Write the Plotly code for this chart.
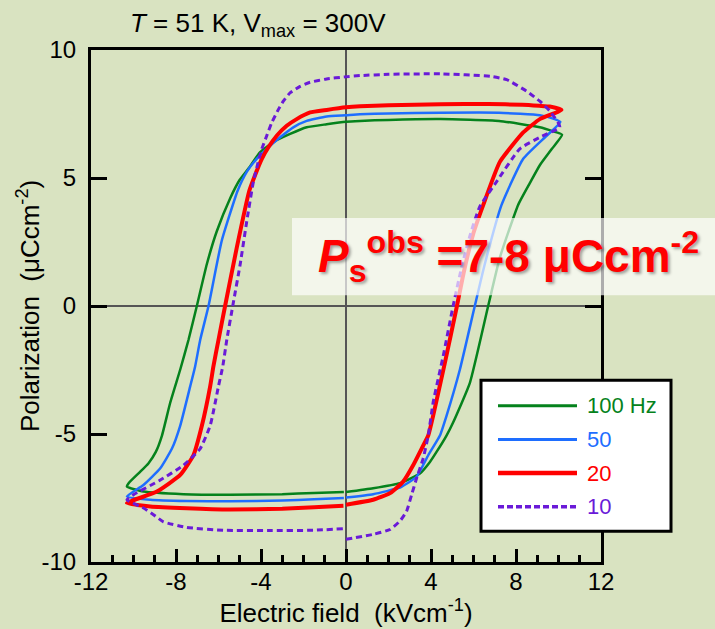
import plotly.graph_objects as go

# ---------------- data ----------------
E_100 = [0, 1.28, 2.54, 3.48, 3.95, 4.26, 4.73, 5.04, 5.83, 6.69, 7.24, 8.1, 8.65, 9.12, 9.7, 10.17,
         9.75, 9.12, 7.2, 4.45, 2.0, 0.66, 0, -0.91, -1.85, -2.63, -3.42, -4.04, -4.59, -5.0,
         -5.45, -6.08, -6.55, -7.02, -7.41, -7.8, -8.27, -8.66, -8.95, -9.3, -9.68, -10.23, -10.31,
         -9.53, -7.65, -5.45, -3.0, -1.5, -0.1]
P_100 = [-7.27, -7.12, -6.92, -6.54, -6.09, -5.7, -5.06, -4.55, -3.0, 0, 1.89, 3.95, 4.8, 5.5, 6.15, 6.69,
         6.82, 6.98, 7.23, 7.3, 7.27, 7.23, 7.2, 7.1, 6.98, 6.72, 6.4, 6.01, 5.37, 4.93,
         4.21, 2.92, 1.63, 0, -1.32, -2.48, -3.77, -5.06, -5.7, -6.15, -6.47, -6.92, -7.05,
         -7.25, -7.35, -7.37, -7.35, -7.3, -7.27]

E_50 = [0, 1.28, 2.54, 3.32, 3.87, 4.42, 4.73, 5.36, 6.06, 6.53, 7.32, 8.34, 9.44, 10.09,
        9.75, 9.12, 7.2, 4.45, 2.0, 0.66, 0, -0.91, -1.85, -2.48, -3.1, -3.73, -4.2, -4.67,
        -5.1, -5.85, -6.47, -6.86, -7.1, -7.33, -7.8, -8.19, -8.74, -9.53, -10.31,
        -9.21, -7.5, -5.45, -3.0, -1.5, -0.1]
P_50 = [-7.48, -7.35, -7.09, -6.67, -5.83, -5.06, -4.29, -2.48, 0, 1.63, 3.95, 5.75, 6.65, 7.19,
        7.32, 7.45, 7.55, 7.55, 7.52, 7.49, 7.45, 7.4, 7.23, 6.98, 6.59, 6.14, 5.75, 5.24,
        4.5, 2.54, 0, -1.32, -2.36, -3.13, -4.67, -5.57, -6.34, -6.99, -7.44,
        -7.57, -7.62, -7.63, -7.6, -7.55, -7.5]

E_20 = [0, 1.28, 2.07, 2.69, 3.16, 3.56, 3.87, 4.1, 4.65, 5.22, 5.55, 5.98, 6.46, 7.24, 8.34,
        9.12, 10.14, 9.59, 9.1, 8.3, 6.7, 4.45, 2.0, 0.66, 0, -0.91, -1.69, -2.32, -2.79,
        -3.26, -3.65, -3.96, -4.28, -4.55, -5.14, -5.69, -6.0, -6.24, -6.39, -6.78,
        -7.18, -7.8, -8.9, -10.31, -9.21, -7.5, -5.45, -3.0, -1.5, -0.12]
P_20 = [-7.76, -7.57, -7.31, -6.86, -6.22, -5.57, -5.06, -4.29, -2.23, 0, 1.35, 2.8, 3.95, 5.63, 6.78,
        7.3, 7.66, 7.79, 7.82, 7.86, 7.89, 7.88, 7.84, 7.8, 7.76, 7.66, 7.56, 7.3, 7.04,
        6.65, 6.2, 5.75, 5.11, 4.5, 2.28, 0, -1.32, -2.36, -3.13, -4.67,
        -5.83, -6.6, -7.25, -7.7, -7.83, -7.9, -7.95, -7.92, -7.86, -7.8]

E_10 = [0, 1.28, 2.07, 2.54, 2.85, 3.09, 3.32, 3.63, 3.87, 4.1, 4.57, 5.04, 5.44, 5.85, 6.3, 7.08,
        8.18, 9.12, 10.06, 9.98, 9.59, 9.12, 8.5, 7.56, 6.8, 4.45, 2.0, 0.66, -0.05, -0.91,
        -1.69, -2.16, -2.63, -2.95, -3.18, -3.49, -3.73, -3.96, -4.14, -4.36, -4.67, -4.98,
        -5.33, -5.61, -5.8, -6.0, -6.39, -6.86, -7.65, -8.74, -10.0, -10.31, -9.53, -9.06,
        -8.59, -7.5, -5.77, -3.5, -1.54, -0.12]
P_10 = [-9.11, -8.92, -8.73, -8.4, -8.02, -7.37, -6.73, -5.96, -5.06, -3.77, -1.97, 0, 1.51, 2.8, 3.89, 4.85,
        6.14, 6.59, 6.98, 7.17, 7.62, 8.0, 8.39, 8.84, 8.97, 9.07, 9.05, 9.0, 8.95, 8.87,
        8.74, 8.58, 8.33, 8.0, 7.68, 7.17, 6.65, 6.14, 5.6, 4.85, 3.31, 1.63,
        0, -1.32, -2.36, -3.13, -4.67, -5.57, -6.22, -6.8, -7.37, -7.57, -7.89, -8.15,
        -8.43, -8.65, -8.76, -8.77, -8.76, -8.7]

series_names = ["100 Hz", "50", "20", "10"]
series_E = [E_100, E_50, E_20, E_10]
series_P = [P_100, P_50, P_20, P_10]
series_colors = ["#05821C", "#1E6EFF", "#FF0000", "#6A1AD8"]
series_widths = [2.5, 2.5, 4, 3]
series_dash = ["solid", "solid", "solid", "6px,4px"]

x_ticks = [-12, -8, -4, 0, 4, 8, 12]
y_ticks = [-10, -5, 0, 5, 10]

# ---------------- layout geometry ----------------
W, H = 715, 629
L, R, T, B = 91, 114, 50, 61
PW, PH = W - L - R, H - T - B


def px(x):
    return (x - L) / PW


def py(y):
    return (H - B - y) / PH


BG = "#D9E3C1"
FONT = "Arial, Liberation Sans, sans-serif"

fig = go.Figure()
for name, E, P, c, w, d in zip(series_names, series_E, series_P, series_colors,
                                series_widths, series_dash):
    fig.add_trace(go.Scatter(
        x=E, y=P, mode="lines", name=name, showlegend=False,
        line=dict(color=c, width=w, dash=d, shape="spline", smoothing=0.45),
    ))

shapes = []
annotations = []

# Ps annotation box
shapes.append(dict(type="rect", xref="paper", yref="paper",
                   x0=px(292), x1=px(715), y0=py(298), y1=py(220),
                   fillcolor="rgba(255,255,255,0.68)", line=dict(width=0), layer="above"))
annotations.append(dict(
    xref="paper", yref="paper", x=px(508), y=py(259), xanchor="center", yanchor="middle",
    text="<b><i>P</i><sub>s</sub><sup>obs</sup> =7-8 μCcm<sup>-2</sup></b>", showarrow=False,
    font=dict(family=FONT, size=46, color="#FF0000", shadow="2px 2px 3px rgba(0,0,0,0.35)"),
))

# Title
annotations.append(dict(
    xref="paper", yref="paper", x=px(258), y=py(24), xanchor="center", yanchor="middle",
    text="<i>T</i> = 51 K, V<sub>max</sub> = 300V", showarrow=False,
    font=dict(family=FONT, size=26, color="black"),
))

# Y axis title (placed as annotation for exact position)
annotations.append(dict(
    xref="paper", yref="paper", x=px(28), y=py(309), xanchor="center", yanchor="middle",
    text="Polarization  (μCcm<sup>-2</sup>)", textangle=-90, showarrow=False,
    font=dict(family=FONT, size=26, color="black"),
))

# Manual legend
shapes.append(dict(type="rect", xref="paper", yref="paper",
                   x0=px(481), x1=px(671), y0=py(537), y1=py(384),
                   fillcolor="white", line=dict(color="black", width=3), layer="above"))
rows = [410, 444, 478, 512]
for name, c, w, d, yy in zip(series_names, series_colors, series_widths, series_dash, rows):
    shapes.append(dict(type="line", xref="paper", yref="paper",
                       x0=px(498), x1=px(577), y0=py(yy), y1=py(yy),
                       line=dict(color=c, width=w + 0.5,
                                 dash=("6px,3px" if d != "solid" else "solid")),
                       layer="above"))
    annotations.append(dict(xref="paper", yref="paper", x=px(585), y=py(yy),
                            xanchor="left", yanchor="middle", text=name, showarrow=False,
                            font=dict(family=FONT, size=22, color=c)))

fig.update_layout(
    width=W, height=H,
    margin=dict(l=L, r=R, t=T, b=B),
    paper_bgcolor=BG, plot_bgcolor=BG,
    font=dict(family=FONT, size=24, color="black"),
    shapes=shapes, annotations=annotations,
    showlegend=False,
)
fig.update_xaxes(
    range=[-12, 12], tickmode="array", tickvals=x_ticks, ticktext=[str(v) for v in x_ticks],
    ticks="inside", ticklen=13, tickwidth=3, tickcolor="black",
    minor=dict(tickmode="linear", tick0=0, dtick=1, ticks="inside", ticklen=7,
               tickwidth=3, tickcolor="black"),
    showline=True, linewidth=3, linecolor="black", mirror=True,
    showgrid=False, zeroline=True, zerolinecolor="#555555", zerolinewidth=1.5,
    ticklabelstandoff=-4,
    tickfont=dict(size=24), title=dict(text="Electric field  (kVcm<sup>-1</sup>)", standoff=4,
                                       font=dict(size=26)),
)
fig.update_yaxes(
    range=[-10, 10], tickmode="array", tickvals=y_ticks, ticktext=[str(v) for v in y_ticks],
    ticks="inside", ticklen=16, tickwidth=3, tickcolor="black",
    showline=True, linewidth=3, linecolor="black", mirror="ticks",
    showgrid=False, zeroline=True, zerolinecolor="#555555", zerolinewidth=1.5,
    ticklabelstandoff=7,
    tickfont=dict(size=24),
)

fig.write_html("out.html")
